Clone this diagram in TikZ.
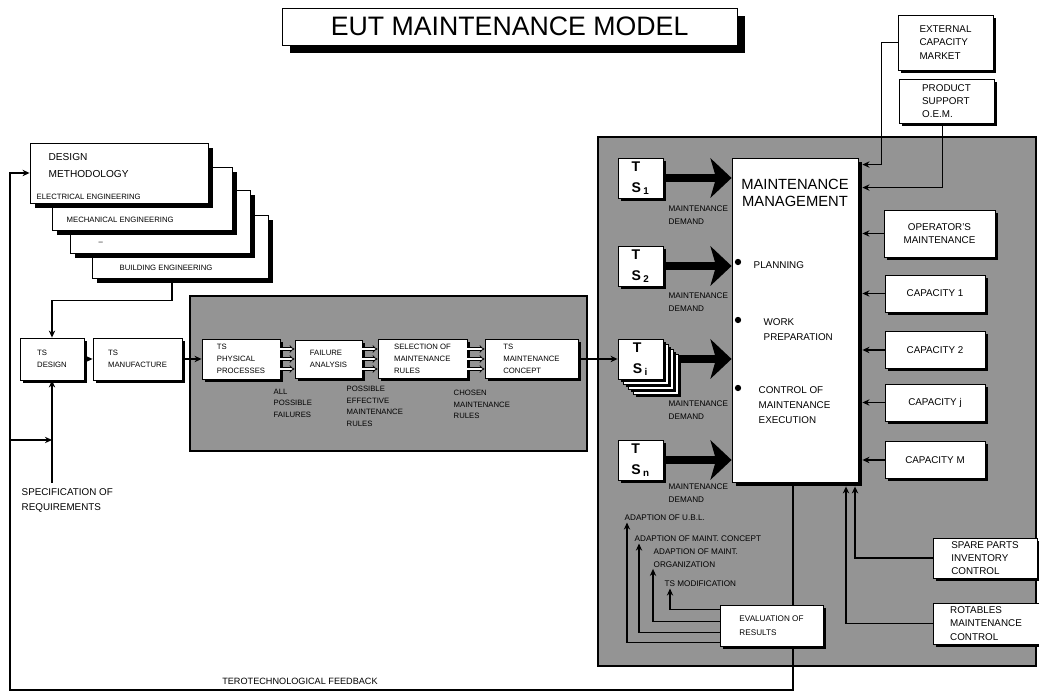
\documentclass[tikz,border=0pt]{standalone}
\usepackage{fontspec}
\setmainfont{Liberation Sans}
\usepackage{tikz}
\usetikzlibrary{shapes,arrows.meta,positioning,shadows,calc}

\begin{document}
\begin{tikzpicture}[
    frame/.style={rectangle, draw, fill=white, line width=0.6pt, align=left, inner sep=1.5pt},
    box/.style={frame, font=\fontsize{5.5}{8.5}\selectfont,
        drop shadow={shadow xshift=0.07cm, shadow yshift=-0.07cm, fill=black, opacity=1}},
    bigbox/.style={box, font=\fontsize{7}{9.5}\selectfont},
    stack/.style={frame, minimum width=4.5cm, minimum height=1.575cm,
        drop shadow={shadow xshift=0.12cm, shadow yshift=-0.12cm, fill=black, opacity=1}},
    heading/.style={frame, font=\fontsize{19}{22}\selectfont,
        drop shadow={shadow xshift=0.2cm, shadow yshift=-0.2cm, fill=black, opacity=1}},
    mmbox/.style={frame,
        drop shadow={shadow xshift=0.1cm, shadow yshift=-0.1cm, fill=black, opacity=1}},
    tsbox/.style={box, minimum width=1.125cm, minimum height=1cm, inner sep=1pt,
        font=\fontsize{10}{15}\selectfont\bfseries},
    lbl/.style={align=left, inner sep=1pt, font=\fontsize{5.5}{8.5}\selectfont},
    mmlbl/.style={lbl, font=\fontsize{7}{10.5}\selectfont},
    small/.style={lbl, font=\fontsize{5.8}{9}\selectfont},
    zone/.style={draw, line width=0.8pt, fill=black!42},
    line/.style={line width=1pt},
    arr/.style={line width=1pt, -{Stealth[length=5pt,width=4.5pt]}},
    dbl/.style={double, double distance=1.3pt, line width=0.5pt, -{Implies}},
    big/.style={line width=5pt, -{Stealth[length=15pt,width=28pt,inset=4pt]}},
    dot/.style={circle, fill=black, inner sep=0pt, minimum size=4.5pt}
]
\useasboundingbox (0,0) rectangle (25.975,17.325);

% shaded areas
\draw[zone] (4.75,6.05) rectangle (14.675,9.925);
\draw[zone] (14.95,0.675) rectangle (25.9,13.9);

\node (title) at (12.74,16.66) [heading, minimum width=11.375cm, minimum height=0.925cm] {EUT MAINTENANCE MODEL};

% Design disciplines
\node (bld) at (4.5,11.1625) [stack, minimum width=4.4cm] {};
\node (dots) at (4.0,11.7875) [stack] {};
\node (mech) at (3.55,12.3625) [stack] {};
\node (dm) at (2.975,13.0) [stack, minimum width=4.45cm, minimum height=1.5cm] {};
\node (dmt) at (1.175,13.525) [lbl, anchor=north west, font=\fontsize{7.2}{12}\selectfont] {DESIGN\\METHODOLOGY};
\node (elec) at (0.875,12.4) [lbl, anchor=west] {ELECTRICAL ENGINEERING};
\node (mecht) at (1.625,11.825) [lbl, anchor=west] {MECHANICAL ENGINEERING};
\node (dotst) at (2.425,11.25) [lbl, anchor=west] {--};
\node (bldt) at (2.95,10.625) [lbl, anchor=west] {BUILDING ENGINEERING};

% Design and manufacture
\node (tsd) at (1.3,8.35) [box, minimum width=1.6cm, minimum height=1.05cm] {TS\\DESIGN};
\node (tsm) at (3.4375,8.35) [box, minimum width=2.225cm, minimum height=1.05cm] {TS\\MANUFACTURE};
\node (spec) at (0.5,5.15) [lbl, anchor=north west, font=\fontsize{7}{10.5}\selectfont] {SPECIFICATION OF\\REQUIREMENTS};
\coordinate (spectop) at (1.3,5.25);
\coordinate (fb) at (0.25,0.075);
\coordinate (br) at (1.3,6.325);

% Concept chain
\node (phys) at (6.025,8.35) [box, minimum width=1.95cm, minimum height=1cm] {TS\\PHYSICAL\\PROCESSES};
\node (fail) at (8.2125,8.35) [box, minimum width=1.675cm, minimum height=0.95cm] {FAILURE\\ANALYSIS};
\node (sel) at (10.5625,8.35) [box, minimum width=2.225cm, minimum height=0.975cm] {SELECTION OF\\MAINTENANCE\\RULES};
\node (conc) at (13.2875,8.35) [box, minimum width=2.325cm, minimum height=0.975cm] {TS\\MAINTENANCE\\CONCEPT};
\node (allf) at (6.8,7.65) [lbl, anchor=north west] {ALL\\POSSIBLE\\FAILURES};
\node (effr) at (8.625,7.725) [lbl, anchor=north west] {POSSIBLE\\EFFECTIVE\\MAINTENANCE\\RULES};
\node (chor) at (11.3,7.625) [lbl, anchor=north west] {CHOSEN\\MAINTENANCE\\RULES};

\foreach \a/\b in {phys/fail, fail/sel, sel/conc}
  \foreach \dy in {0.25,0,-0.25}
    \draw[dbl] ([yshift=\dy cm]\a.east) -- ([yshift=\dy cm]\b.west);

% Technical systems
\foreach \k in {3,2,1}
  \node (tsi\k) at ({16.0125+0.125*\k},{8.35-0.125*\k}) [tsbox] {};
\foreach \nm/\yy/\ix in {ts1/12.875/1, ts2/10.675/2, tsi/8.35/i, tsn/5.825/n}
  \node (\nm) at (16.0125,\yy) [tsbox] {T\\S\,\textsubscript{\ix}};
\foreach \nm/\yy in {ts1/12.225, ts2/10.05, tsi/7.35, tsn/5.275}
  \node (dem\nm) at (16.675,\yy) [small, anchor=north west] {MAINTENANCE\\DEMAND};

% Maintenance management
\node (mm) at (19.875,9.325) [mmbox, minimum width=3.15cm, minimum height=8.1cm] {};
\node (mmt) at (19.875,12.5) [lbl, align=center, font=\fontsize{10.5}{12}\selectfont] {MAINTENANCE\\MANAGEMENT};
\node (bplan) at (18.45,10.775) [dot] {};
\node (bwork) at (18.45,9.325) [dot] {};
\node (bctrl) at (18.45,7.625) [dot] {};
\node (plan) at (18.8,10.7) [mmlbl, anchor=west] {PLANNING};
\node (work) at (19.05,9.4) [mmlbl, anchor=north west] {WORK\\PREPARATION};
\node (ctrl) at (18.925,7.7) [mmlbl, anchor=north west] {CONTROL OF\\MAINTENANCE\\EXECUTION};
\coordinate (mmr) at ([xshift=0.1cm]mm.east);
\coordinate (mmb) at ([xshift=-0.05cm,yshift=-0.1cm]mm.south);

\foreach \nm in {ts1, ts2, tsn}
  \draw[big] (\nm.east) -- (\nm.east -| mm.west);
\draw[big] ([xshift=0.375cm]tsi.east) -- (tsi.east -| mm.west);

% Capacity side
\node (ext) at (23.6375,16.2625) [bigbox, minimum width=2.375cm, minimum height=1.375cm] {EXTERNAL\\CAPACITY\\MARKET};
\node (oem) at (23.6625,14.8) [bigbox, minimum width=2.375cm, minimum height=1.1cm] {PRODUCT\\SUPPORT\\O.E.M.};
\node (oper) at (23.4875,11.4875) [bigbox, align=center, minimum width=2.775cm, minimum height=1.175cm] {OPERATOR'S\\MAINTENANCE};
\foreach \nm/\yy/\txt in {cap1/9.9875/CAPACITY 1, cap2/8.575/CAPACITY 2, capj/7.2625/CAPACITY j, capm/5.825/CAPACITY M}{
  \node (\nm) at (23.375,\yy) [bigbox, minimum width=2.5cm, minimum height=0.925cm] {\txt};
  \draw[arr] (\nm.west) -- (\nm.west -| mmr);
}
\node (spare) at (24.625,3.375) [bigbox, minimum width=2.6cm, minimum height=1cm] {SPARE PARTS\\INVENTORY\\CONTROL};
\node (rot) at (24.65,1.7375) [bigbox, minimum width=2.65cm, minimum height=1.025cm] {ROTABLES\\MAINTENANCE\\CONTROL};

% Evaluation feedback
\node (eval) at (19.2875,1.6875) [box, minimum width=2.575cm, minimum height=1.025cm, font=\fontsize{5.8}{10}\selectfont] {EVALUATION OF\\RESULTS};
\node (adubl) at (15.575,4.375) [small, anchor=west] {ADAPTION OF U.B.L.};
\node (adcon) at (15.825,3.85) [small, anchor=west] {ADAPTION OF MAINT. CONCEPT};
\node (adorg) at (16.3,3.375) [small, anchor=west] {ADAPTION OF MAINT.\\ORGANIZATION};
\node (tsmod) at (16.575,2.725) [small, anchor=west] {TS MODIFICATION};
\node (fbt) at (7.5,0.28) [lbl, font=\fontsize{6.5}{8}\selectfont] {TEROTECHNOLOGICAL FEEDBACK};

\foreach \nm/\dx/\dy in {adubl/0.1/0.1, adcon/0.15/0.35, adorg/0.025/0.625, tsmod/0.175/0.925}
  \draw[arr] ([yshift=\dy cm]eval.south west) -| ([xshift=\dx cm]\nm.south west);

% connectors
\draw[arr] ([xshift=-0.2cm]bld.south) -- ++(0,-0.55) -| (tsd.north);
\draw[arr] (spectop) -- (tsd.south);
\draw[arr] (br -| fb) -- (br);
\draw[arr] (tsd.east) -- (tsm.west);
\draw[arr] (tsm.east) -- (phys.west);
\draw[arr] (conc.east) -- (tsi.west);
\draw[arr] (ext.west) -- ++(-0.4,0) |- ([xshift=0.1cm,yshift=-0.175cm]mm.north east);
\draw[arr] ([xshift=-0.1cm]oem.south) |- ([xshift=0.1cm,yshift=-0.75cm]mm.north east);
\draw[arr] (oper.west) -- (oper.west -| mmr);
\draw[arr] (spare.west) -| ([xshift=1.5cm,yshift=-0.1cm]mm.south);
\draw[arr] (rot.west) -| ([xshift=1.275cm,yshift=-0.1cm]mm.south);
\draw[line] (mmb) -- (mmb |- eval.north);
\draw[arr] (mmb |- eval.south) -- (mmb |- fb) -- (fb) |- (dm.west);

\end{tikzpicture}
\end{document}
